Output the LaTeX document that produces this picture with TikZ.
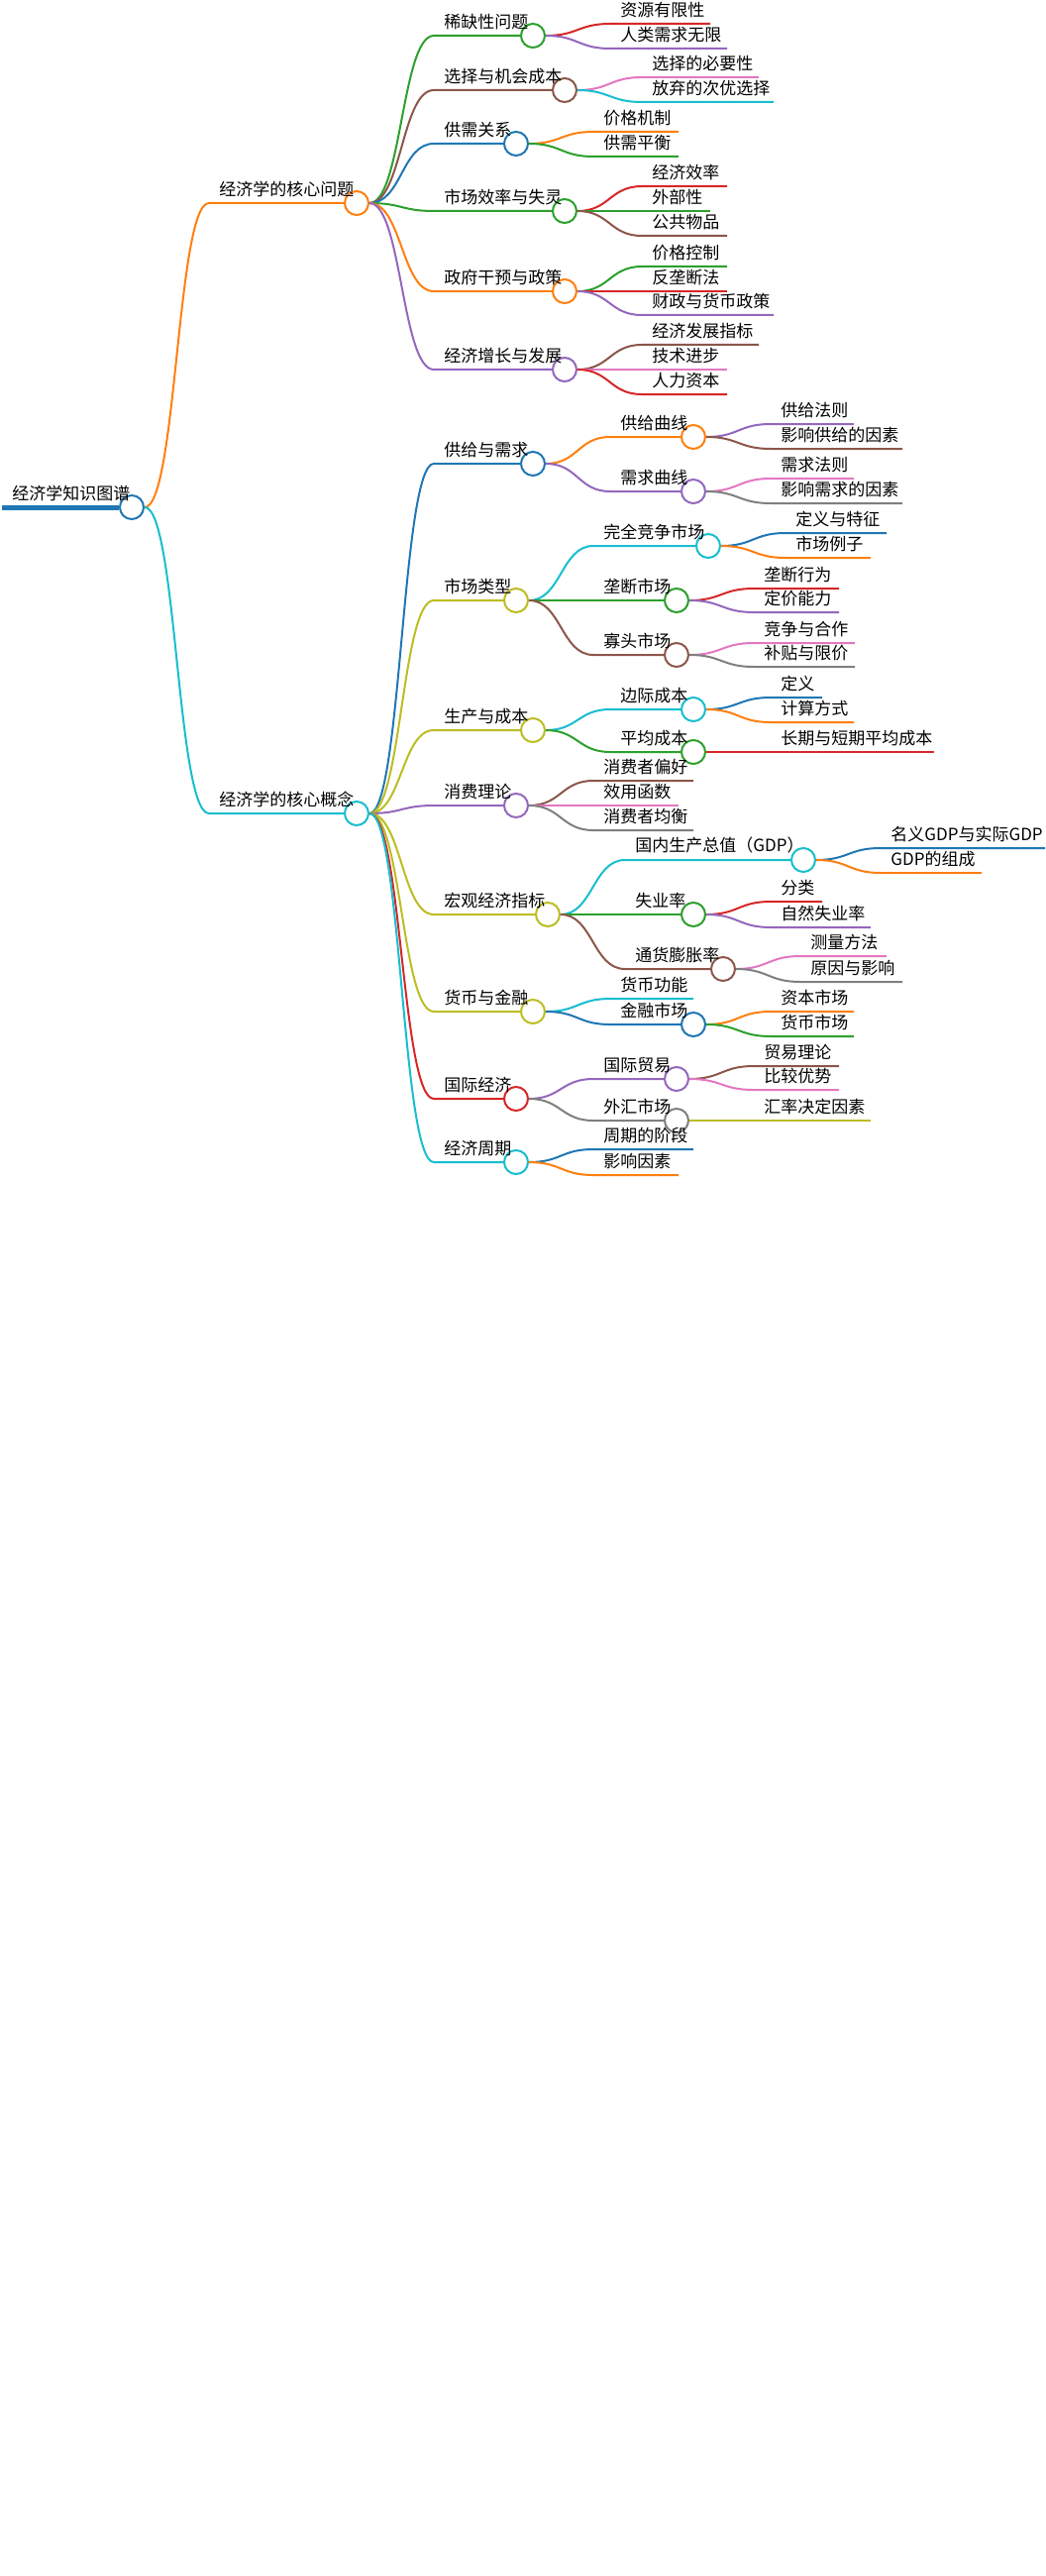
\documentclass[tikz,border=0pt]{standalone}
\usepackage{fontspec}
\setmainfont{Noto Sans CJK SC}
\usetikzlibrary{calc}

\definecolor{cblue}{HTML}{1F77B4}
\definecolor{corange}{HTML}{FF7F0E}
\definecolor{cgreen}{HTML}{2CA02C}
\definecolor{cred}{HTML}{D62728}
\definecolor{cpurple}{HTML}{9467BD}
\definecolor{cbrown}{HTML}{8C564B}
\definecolor{cpink}{HTML}{E377C2}
\definecolor{cgray}{HTML}{7F7F7F}
\definecolor{colive}{HTML}{BCBD22}
\definecolor{ccyan}{HTML}{17BECF}

\tikzset{
  dot/.style={circle,draw=#1,fill=white,line width=1pt,minimum size=12,inner sep=0pt},
  link/.style={draw=#1,line width=1pt},
  lbl/.style={anchor=south west,inner sep=0pt,yshift=3,font=\fontsize{8.5}{10}\selectfont},
}

% #1 name, #2 parent, #3 parent x, #4 y, #5 end x, #6 colour, #7 text
\newcommand{\topic}[7]{%
  \coordinate (#1-s) at ({#3+78},#4);
  \node[dot=#6] (#1) at (#5,#4) {};
  \coordinate (#1-m) at ($(#2.east)!.5!(#1-s)$);
  \draw[link=#6] (#2.east) .. controls (#1-m |- #2.east) and (#1-m |- #1-s) .. (#1-s) -- (#1.west);
  \node[lbl] (#1-t) at ({#3+88},#4) {#7};
}
\newcommand{\leaf}[7]{%
  \coordinate (#1-s) at ({#3+78},#4);
  \coordinate (#1) at (#5,#4);
  \coordinate (#1-m) at ($(#2.east)!.5!(#1-s)$);
  \draw[link=#6] (#2.east) .. controls (#1-m |- #2.east) and (#1-m |- #1-s) .. (#1-s) -- (#1);
  \node[lbl] (#1-t) at ({#3+88},#4) {#7};
}

\begin{document}
\begin{tikzpicture}[x=0.5pt,y=-0.5pt]
\useasboundingbox (0,0) rectangle (1055,2600);

% root
\node[dot=cblue] (root) at (133,512) {};
\draw[cblue,line width=2.5pt] (2,512) -- (root.west);
\node[lbl] at (12,512) {经济学知识图谱};

% core problems
\topic{prob}{root}{133}{205}{360}{corange}{经济学的核心问题}
\topic{scar}{prob}{360}{36}{538}{cgreen}{稀缺性问题}
\leaf{scarA}{scar}{538}{24}{717}{cred}{资源有限性}
\leaf{scarB}{scar}{538}{49}{734}{cpurple}{人类需求无限}
\topic{choice}{prob}{360}{91}{570}{cbrown}{选择与机会成本}
\leaf{choiceA}{choice}{570}{78}{766}{cpink}{选择的必要性}
\leaf{choiceB}{choice}{570}{103}{781}{ccyan}{放弃的次优选择}
\topic{sd}{prob}{360}{145}{521}{cblue}{供需关系}
\leaf{sdA}{sd}{521}{133}{685}{corange}{价格机制}
\leaf{sdB}{sd}{521}{158}{685}{cgreen}{供需平衡}
\topic{eff}{prob}{360}{213}{570}{cgreen}{市场效率与失灵}
\leaf{effA}{eff}{570}{188}{734}{cred}{经济效率}
\leaf{effB}{eff}{570}{213}{717}{cgreen}{外部性}
\leaf{effC}{eff}{570}{238}{734}{cbrown}{公共物品}
\topic{gov}{prob}{360}{294}{570}{corange}{政府干预与政策}
\leaf{govA}{gov}{570}{269}{734}{cgreen}{价格控制}
\leaf{govB}{gov}{570}{294}{734}{cred}{反垄断法}
\leaf{govC}{gov}{570}{318}{781}{cpurple}{财政与货币政策}
\topic{grow}{prob}{360}{373}{570}{cpurple}{经济增长与发展}
\leaf{growA}{grow}{570}{348}{766}{cbrown}{经济发展指标}
\leaf{growB}{grow}{570}{373}{734}{cpink}{技术进步}
\leaf{growC}{grow}{570}{398}{734}{cred}{人力资本}

% core concepts
\topic{conc}{root}{133}{821}{360}{ccyan}{经济学的核心概念}
\topic{supdem}{conc}{360}{468}{538}{cblue}{供给与需求}
\topic{supc}{supdem}{538}{441}{700}{corange}{供给曲线}
\leaf{supcA}{supc}{700}{428}{862}{cpurple}{供给法则}
\leaf{supcB}{supc}{700}{453}{911}{cbrown}{影响供给的因素}
\topic{demc}{supdem}{538}{496}{700}{cpurple}{需求曲线}
\leaf{demcA}{demc}{700}{483}{862}{cpink}{需求法则}
\leaf{demcB}{demc}{700}{508}{911}{cgray}{影响需求的因素}
\topic{mkt}{conc}{360}{606}{521}{colive}{市场类型}
\topic{perf}{mkt}{521}{551}{715}{ccyan}{完全竞争市场}
\leaf{perfA}{perf}{715}{538}{895}{cblue}{定义与特征}
\leaf{perfB}{perf}{715}{563}{879}{corange}{市场例子}
\topic{mono}{mkt}{521}{606}{683}{cgreen}{垄断市场}
\leaf{monoA}{mono}{683}{594}{847}{cred}{垄断行为}
\leaf{monoB}{mono}{683}{618}{847}{cpurple}{定价能力}
\topic{olig}{mkt}{521}{661}{683}{cbrown}{寡头市场}
\leaf{oligA}{olig}{683}{649}{863}{cpink}{竞争与合作}
\leaf{oligB}{olig}{683}{673}{863}{cgray}{补贴与限价}
\topic{prod}{conc}{360}{737}{538}{colive}{生产与成本}
\topic{marg}{prod}{538}{716}{700}{ccyan}{边际成本}
\leaf{margA}{marg}{700}{704}{830}{cblue}{定义}
\leaf{margB}{marg}{700}{729}{862}{corange}{计算方式}
\topic{avg}{prod}{538}{759}{700}{cgreen}{平均成本}
\leaf{avgA}{avg}{700}{759}{943}{cred}{长期与短期平均成本}
\topic{cons}{conc}{360}{813}{521}{cpurple}{消费理论}
\leaf{consA}{cons}{521}{788}{700}{cbrown}{消费者偏好}
\leaf{consB}{cons}{521}{813}{685}{cpink}{效用函数}
\leaf{consC}{cons}{521}{838}{700}{cgray}{消费者均衡}
\topic{macro}{conc}{360}{923}{553}{colive}{宏观经济指标}
\topic{gdp}{macro}{553}{868}{811}{ccyan}{国内生产总值（GDP）}
\leaf{gdpA}{gdp}{811}{856}{1055}{cblue}{名义GDP与实际GDP}
\leaf{gdpB}{gdp}{811}{881}{991}{corange}{GDP的组成}
\topic{unemp}{macro}{553}{923}{700}{cgreen}{失业率}
\leaf{unempA}{unemp}{700}{910}{830}{cred}{分类}
\leaf{unempB}{unemp}{700}{936}{879}{cpurple}{自然失业率}
\topic{infl}{macro}{553}{978}{730}{cbrown}{通货膨胀率}
\leaf{inflA}{infl}{730}{965}{895}{cpink}{测量方法}
\leaf{inflB}{infl}{730}{991}{911}{cgray}{原因与影响}
\topic{money}{conc}{360}{1021}{538}{colive}{货币与金融}
\leaf{moneyA}{money}{538}{1008}{700}{ccyan}{货币功能}
\topic{fin}{money}{538}{1034}{700}{cblue}{金融市场}
\leaf{finA}{fin}{700}{1021}{862}{corange}{资本市场}
\leaf{finB}{fin}{700}{1046}{862}{cgreen}{货币市场}
\topic{intl}{conc}{360}{1109}{521}{cred}{国际经济}
\topic{trade}{intl}{521}{1089}{683}{cpurple}{国际贸易}
\leaf{tradeA}{trade}{683}{1076}{847}{cbrown}{贸易理论}
\leaf{tradeB}{trade}{683}{1100}{847}{cpink}{比较优势}
\topic{fx}{intl}{521}{1131}{683}{cgray}{外汇市场}
\leaf{fxA}{fx}{683}{1131}{879}{colive}{汇率决定因素}
\topic{cycle}{conc}{360}{1173}{521}{ccyan}{经济周期}
\leaf{cycleA}{cycle}{521}{1160}{700}{cblue}{周期的阶段}
\leaf{cycleB}{cycle}{521}{1186}{685}{corange}{影响因素}
\end{tikzpicture}
\end{document}
